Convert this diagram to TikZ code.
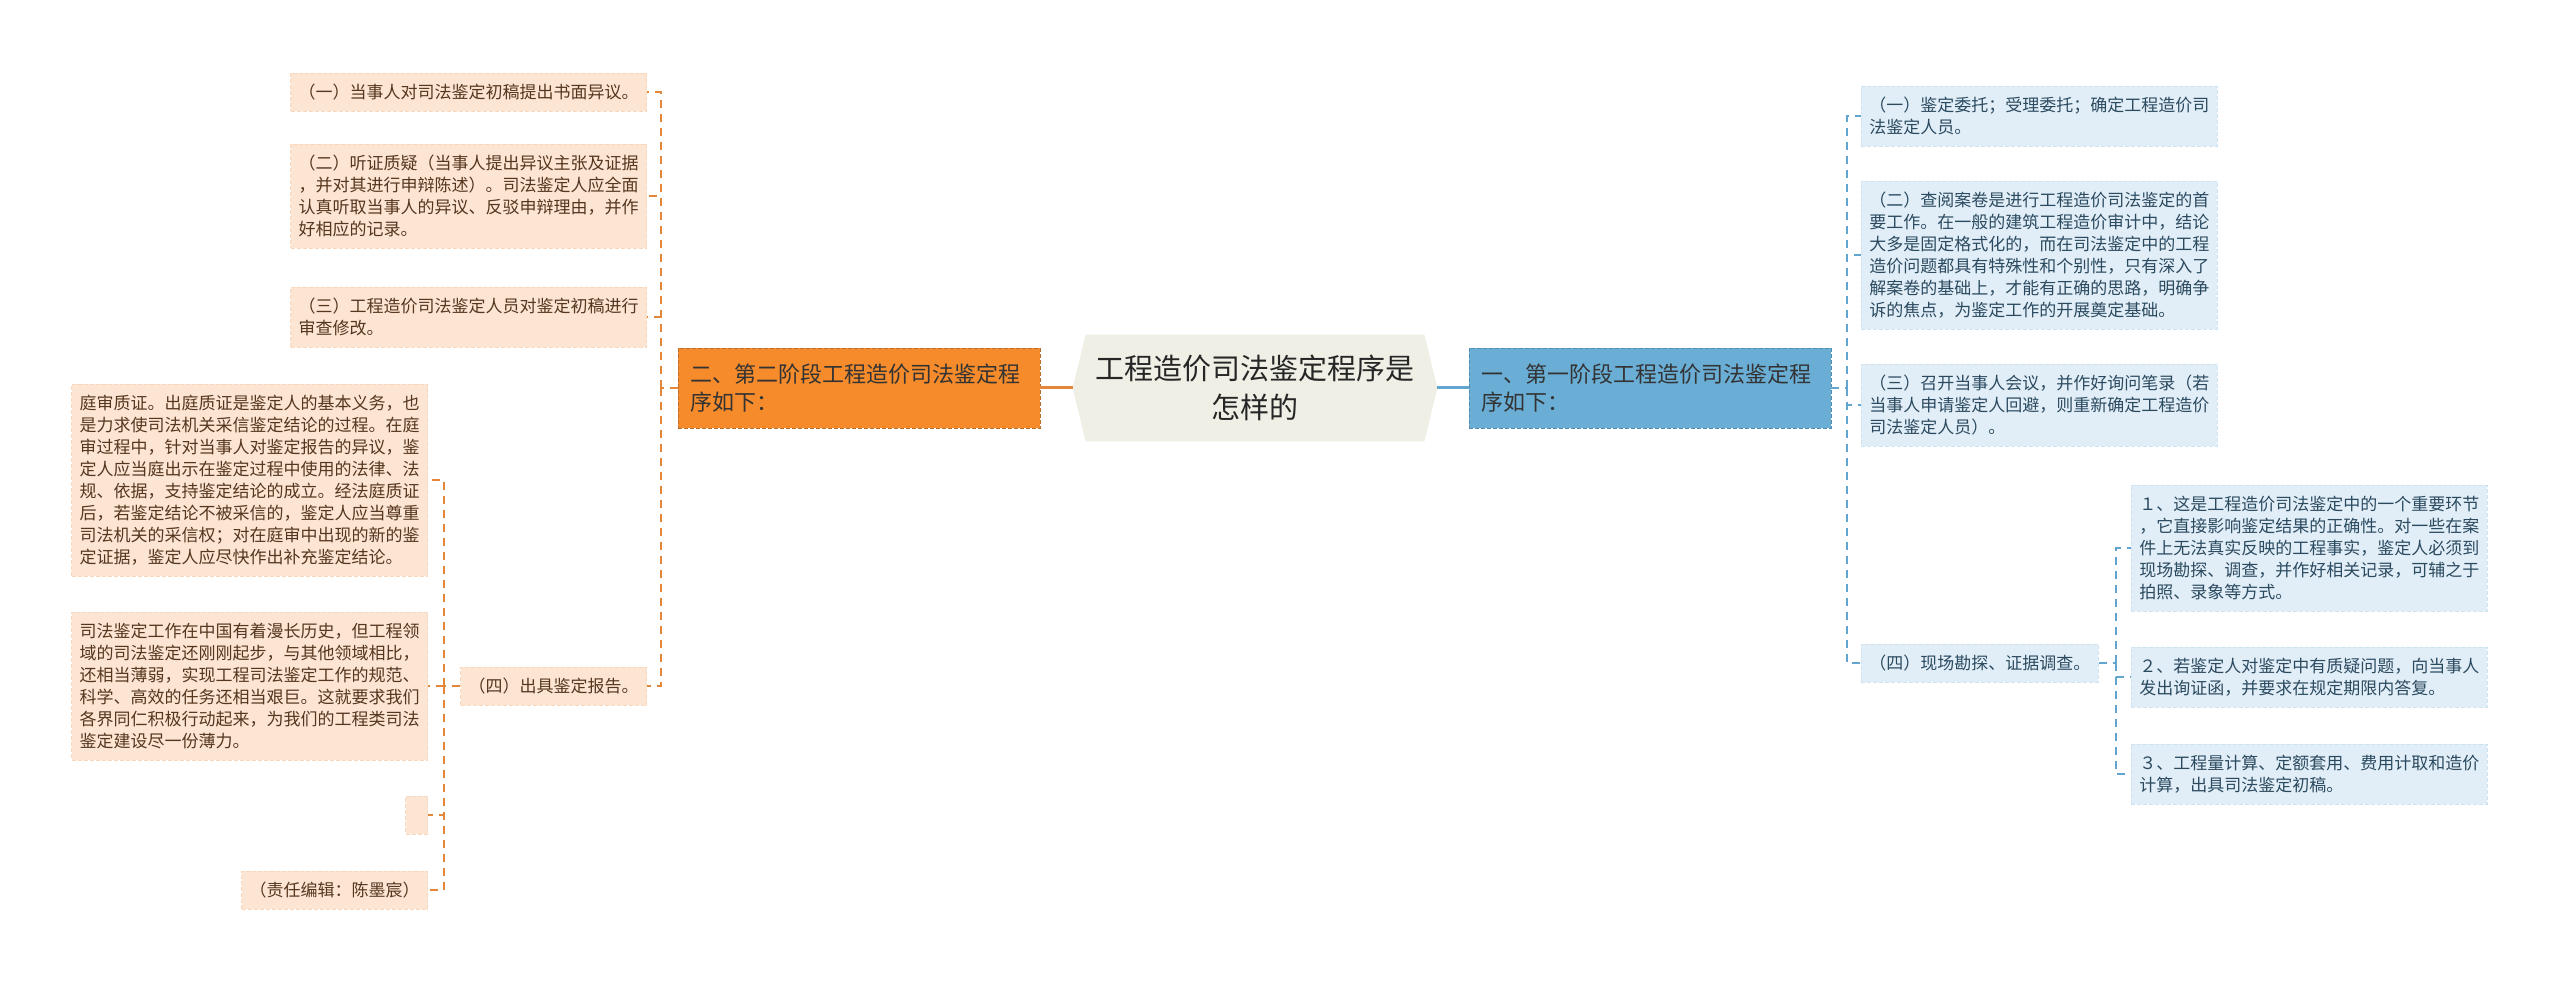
\documentclass[tikz,border=0pt]{standalone}
\usepackage{fontspec}
\setmainfont{Noto Sans CJK SC}
\usetikzlibrary{backgrounds}
\definecolor{rootfill}{HTML}{EFEFE6}
\definecolor{ofill}{HTML}{F58B2B}
\definecolor{oline}{HTML}{E3883A}
\definecolor{pfill}{HTML}{FCE5D3}
\definecolor{ptext}{HTML}{55371F}
\definecolor{bfill}{HTML}{6AAED6}
\definecolor{bline}{HTML}{62A5D0}
\definecolor{sfill}{HTML}{E1EEF7}
\definecolor{stext}{HTML}{2B4A60}

\begin{document}
\begin{tikzpicture}[x=0.5pt,y=-0.5pt,
  leaf/.style={rectangle, align=left, inner xsep=4pt, inner ysep=1pt,
    font=\fontsize{8.5}{11}\selectfont, minimum height={8pt+11pt*#1}},
  oleaf/.style={leaf=#1, anchor=east, fill=pfill, text=ptext,
    draw=pfill!85!oline, dash pattern=on 2pt off 1pt},
  bleaf/.style={leaf=#1, anchor=west, fill=sfill, text=stext,
    draw=sfill!85!bline, dash pattern=on 2pt off 1pt},
  branch/.style={rectangle, align=left, text width=169pt, inner xsep=6pt,
    minimum height=40pt, font=\fontsize{11}{14}\selectfont,
    dash pattern=on 2pt off 1pt},
  olink/.style={draw=oline, line width=1pt, dash pattern=on 4pt off 3pt},
  blink/.style={draw=bline, line width=1pt, dash pattern=on 4pt off 3pt}]
\useasboundingbox (0,0) rectangle (2560,983);

% centre
\node[minimum width=182pt, minimum height=53pt, align=center, text=black!85,
  font=\fontsize{14.5}{19.5}\selectfont] (root) at (1255,388)
  {工程造价司法鉴定程序是\\怎样的};
\begin{scope}[on background layer]
\fill[rootfill] ([xshift=6.5pt]root.north west) -- (root.west)
  -- ([xshift=6.5pt]root.south west) -- ([xshift=-6.5pt]root.south east)
  -- (root.east) -- ([xshift=-6.5pt]root.north east) -- cycle;
\end{scope}

\node[branch, fill=ofill, draw=oline!80!black, text=black!80] (stage2) at (859,388)
  {二、第二阶段工程造价司法鉴定程\\序如下：};
\node[branch, fill=bfill, draw=bline!85!black, text=black!80] (stage1) at (1650,388)
  {一、第一阶段工程造价司法鉴定程\\序如下：};
\draw[oline, line width=1.5pt] (root.west) -- (stage2.east);
\draw[bline, line width=1.5pt] (root.east) -- (stage1.west);

% second stage
\node[oleaf=1, minimum width=178pt] (l1) at (647,92) {（一）当事人对司法鉴定初稿提出书面异议。};
\node[oleaf=4] (l2) at (647,196) {（二）听证质疑（当事人提出异议主张及证据\\，并对其进行申辩陈述）。司法鉴定人应全面\\认真听取当事人的异议、反驳申辩理由，并作\\好相应的记录。};
\node[oleaf=2] (l3) at (647,317) {（三）工程造价司法鉴定人员对鉴定初稿进行\\审查修改。};
\node[oleaf=1] (l4) at (647,686) {（四）出具鉴定报告。};

\node[oleaf=8] (ll1) at (428,480) {庭审质证。出庭质证是鉴定人的基本义务，也\\是力求使司法机关采信鉴定结论的过程。在庭\\审过程中，针对当事人对鉴定报告的异议，鉴\\定人应当庭出示在鉴定过程中使用的法律、法\\规、依据，支持鉴定结论的成立。经法庭质证\\后，若鉴定结论不被采信的，鉴定人应当尊重\\司法机关的采信权；对在庭审中出现的新的鉴\\定证据，鉴定人应尽快作出补充鉴定结论。};
\node[oleaf=6] (ll2) at (428,686) {司法鉴定工作在中国有着漫长历史，但工程领\\域的司法鉴定还刚刚起步，与其他领域相比，\\还相当薄弱，实现工程司法鉴定工作的规范、\\科学、高效的任务还相当艰巨。这就要求我们\\各界同仁积极行动起来，为我们的工程类司法\\鉴定建设尽一份薄力。};
\node[oleaf=1, minimum width=11pt, inner xsep=0pt] (ll3) at (428,815) {};
\node[oleaf=1] (ll4) at (428,890) {（责任编辑：陈墨宸）};

\coordinate (lj) at (661,388);
\coordinate (llj) at (444,686);
\draw[olink] (stage2.west) -- (lj);
\foreach \n in {l1,l2,l3,l4}
  \draw[olink] (lj) |- (\n.east);
\draw[olink] (l4.west) -- (llj);
\foreach \n in {ll1,ll2,ll3,ll4}
  \draw[olink] (llj) |- (\n.east);

% first stage
\node[bleaf=2] (r1) at (1861,116) {（一）鉴定委托；受理委托；确定工程造价司\\法鉴定人员。};
\node[bleaf=6] (r2) at (1861,255) {（二）查阅案卷是进行工程造价司法鉴定的首\\要工作。在一般的建筑工程造价审计中，结论\\大多是固定格式化的，而在司法鉴定中的工程\\造价问题都具有特殊性和个别性，只有深入了\\解案卷的基础上，才能有正确的思路，明确争\\诉的焦点，为鉴定工作的开展奠定基础。};
\node[bleaf=3] (r3) at (1861,405) {（三）召开当事人会议，并作好询问笔录（若\\当事人申请鉴定人回避，则重新确定工程造价\\司法鉴定人员）。};
\node[bleaf=1] (r4) at (1861,663) {（四）现场勘探、证据调查。};

\node[bleaf=5] (rr1) at (2131,548) {１、这是工程造价司法鉴定中的一个重要环节\\，它直接影响鉴定结果的正确性。对一些在案\\件上无法真实反映的工程事实，鉴定人必须到\\现场勘探、调查，并作好相关记录，可辅之于\\拍照、录象等方式。};
\node[bleaf=2] (rr2) at (2131,677) {２、若鉴定人对鉴定中有质疑问题，向当事人\\发出询证函，并要求在规定期限内答复。};
\node[bleaf=2] (rr3) at (2131,774) {３、工程量计算、定额套用、费用计取和造价\\计算，出具司法鉴定初稿。};

\coordinate (rj) at (1847,388);
\coordinate (rrj) at (2116,663);
\draw[blink] (stage1.east) -- (rj);
\foreach \n in {r1,r2,r3,r4}
  \draw[blink] (rj) |- (\n.west);
\draw[blink] (r4.east) -- (rrj);
\foreach \n in {rr1,rr2,rr3}
  \draw[blink] (rrj) |- (\n.west);
\end{tikzpicture}
\end{document}
